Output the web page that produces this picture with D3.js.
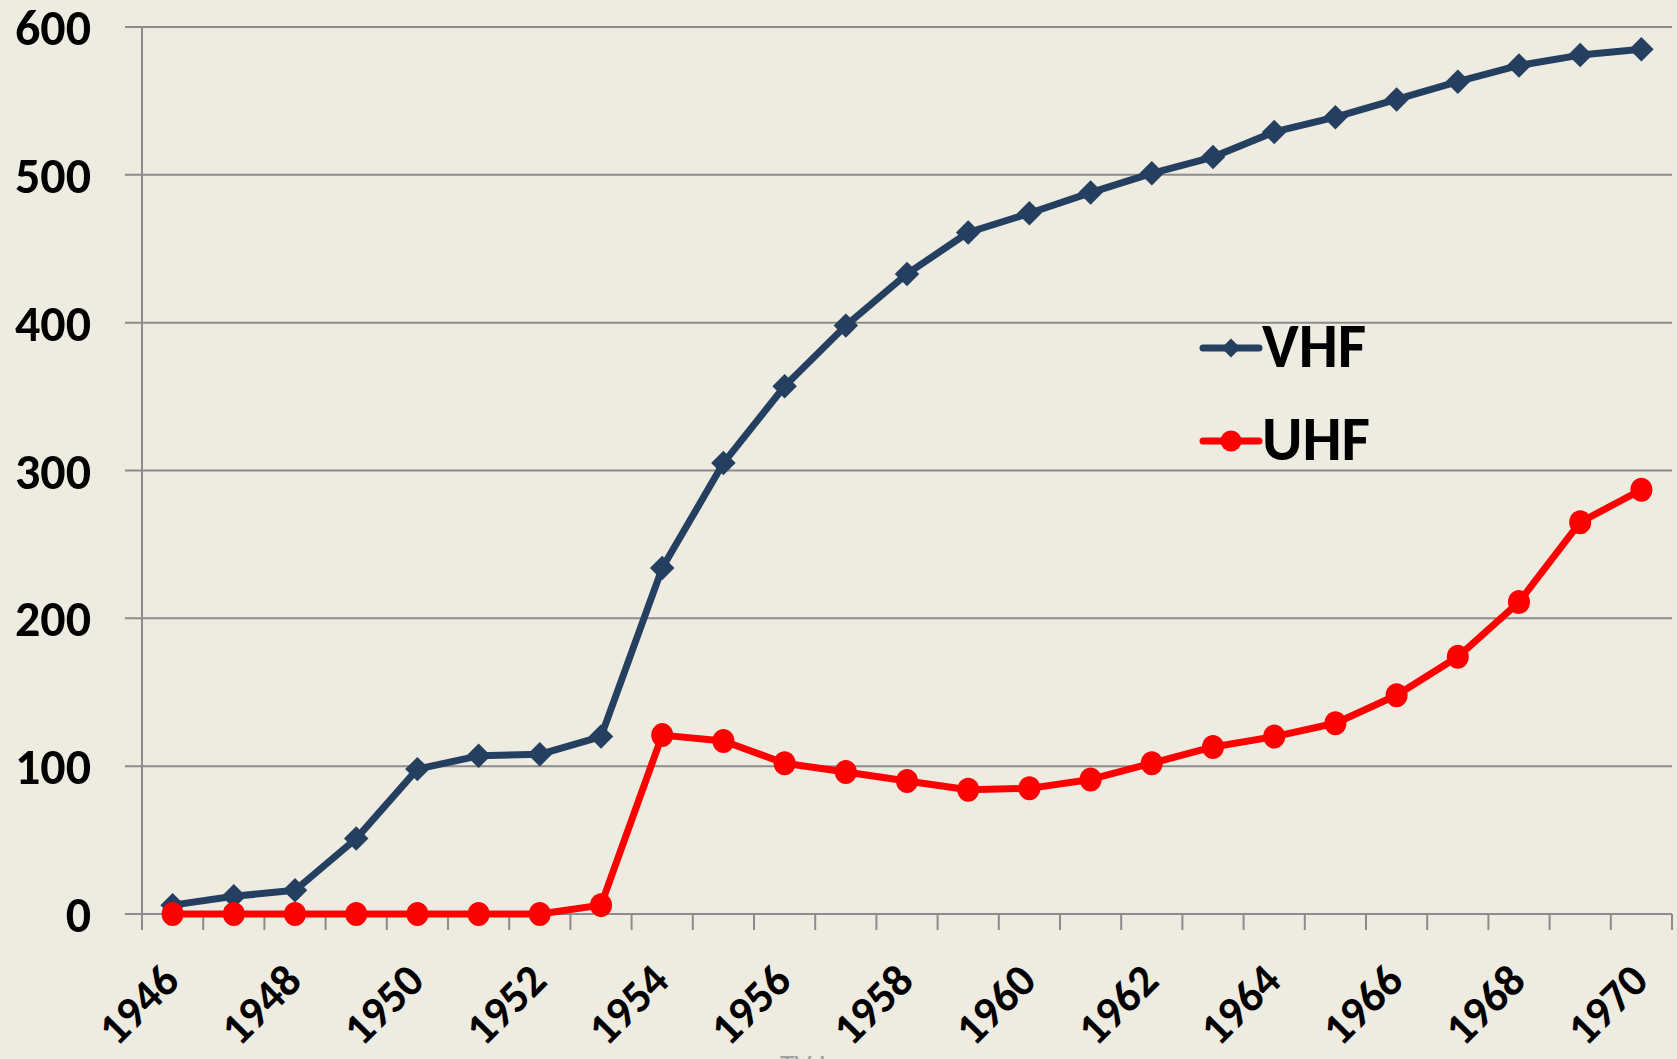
<!DOCTYPE html>
<html>
<head>
<meta charset="utf-8">
<script src="https://cdn.jsdelivr.net/npm/d3@7"></script>
<style>
  html, body { margin: 0; padding: 0; background: #EEEBE0; }
  svg { display: block; }
  text { font-family: Carlito, Lato, "Open Sans", sans-serif; font-weight: 800; }
</style>
</head>
<body>
<svg id="chart" width="1677" height="1059"></svg>
<script>
const years = ["1946","1947","1948","1949","1950","1951","1952","1953","1954","1955","1956","1957","1958","1959","1960","1961","1962","1963","1964","1965","1966","1967","1968","1969","1970"];
const vhf = [6, 12, 16, 51, 98, 107, 108, 120, 234, 305, 357, 398, 433, 461, 474, 488, 501, 512, 529, 539, 551, 563, 574, 581, 585];
const uhf = [0, 0, 0, 0, 0, 0, 0, 6, 121, 117, 102, 96, 90, 84, 85, 91, 102, 113, 120, 129, 148, 174, 211, 265, 287];
const yTicks = [0, 100, 200, 300, 400, 500, 600];
const xTickLabels = ["1946","1948","1950","1952","1954","1956","1958","1960","1962","1964","1966","1968","1970"];
const seriesNames = ["VHF", "UHF"];

(function () {
const svg = d3.select("#chart");
const W = 1677, H = 1059;
svg.append("rect").attr("width", W).attr("height", H).attr("fill", "#EEEBE0");

const pLeft = 142, pRight = 1672, pTop = 27, pBottom = 914;
const x = d3.scaleBand().domain(years).range([pLeft, pRight]).padding(0);
const y = d3.scaleLinear().domain([0, 600]).range([pBottom, pTop]);
const gridColor = "#8C8C8C";

// gridlines
svg.append("g").selectAll("line").data(yTicks).join("line")
  .attr("x1", pLeft - 17).attr("x2", pRight)
  .attr("y1", d => y(d)).attr("y2", d => y(d))
  .attr("stroke", gridColor).attr("stroke-width", 2);

// y axis line
svg.append("line").attr("x1", pLeft).attr("x2", pLeft)
  .attr("y1", pTop).attr("y2", pBottom + 16)
  .attr("stroke", gridColor).attr("stroke-width", 2);

// x ticks at category boundaries
const bounds = years.map(d => x(d)).concat([pRight]);
svg.append("g").selectAll("line").data(bounds).join("line")
  .attr("x1", d => d).attr("x2", d => d)
  .attr("y1", pBottom).attr("y2", pBottom + 16)
  .attr("stroke", gridColor).attr("stroke-width", 2);

// y labels
svg.append("g").selectAll("text").data(yTicks).join("text")
  .attr("x", 91).attr("y", d => y(d)).attr("dy", "0.36em")
  .attr("text-anchor", "end").attr("font-size", 50).attr("fill", "#000")
  .text(d => d);

// x labels
svg.append("g").selectAll("text").data(xTickLabels).join("text")
  .attr("text-anchor", "end").attr("font-size", 45).attr("fill", "#000")
  .attr("transform", d => `translate(${x(d) + x.bandwidth()/2 + 9},${pBottom + 69}) rotate(-45)`)
  .text(d => d);

const cx = d => x(d) + x.bandwidth() / 2;
const line = d3.line().x(d => cx(d[0])).y(d => y(d[1]));
const vhfColor = "#243F60", uhfColor = "#FF0000";

const vhfPts = years.map((yr, i) => [yr, vhf[i]]);
const uhfPts = years.map((yr, i) => [yr, uhf[i]]);

svg.append("path").datum(vhfPts).attr("d", line)
  .attr("fill", "none").attr("stroke", vhfColor).attr("stroke-width", 7).attr("stroke-linejoin", "round");
const diamond = d3.symbol().type(d3.symbolSquare).size(300);
svg.append("g").selectAll("path").data(vhfPts).join("path")
  .attr("d", diamond)
  .attr("transform", d => `translate(${cx(d[0])},${y(d[1])}) rotate(45)`)
  .attr("fill", vhfColor);

svg.append("path").datum(uhfPts).attr("d", line)
  .attr("fill", "none").attr("stroke", uhfColor).attr("stroke-width", 7).attr("stroke-linejoin", "round");
svg.append("g").selectAll("ellipse").data(uhfPts).join("ellipse")
  .attr("cx", d => cx(d[0])).attr("cy", d => y(d[1])).attr("rx", 11).attr("ry", 12)
  .attr("fill", uhfColor);

// legend
const legend = [
  { name: seriesNames[0], color: vhfColor, ly: 348, ty: 367, marker: "diamond" },
  { name: seriesNames[1], color: uhfColor, ly: 441, ty: 460, marker: "circle" }
];
const lg = svg.append("g");
legend.forEach(l => {
  lg.append("line").attr("x1", 1203).attr("x2", 1259).attr("y1", l.ly).attr("y2", l.ly)
    .attr("stroke", l.color).attr("stroke-width", 7).attr("stroke-linecap", "round");
  if (l.marker === "diamond") {
    lg.append("path").attr("d", d3.symbol().type(d3.symbolSquare).size(180))
      .attr("transform", `translate(1231,${l.ly}) rotate(45)`).attr("fill", l.color);
  } else {
    lg.append("circle").attr("cx", 1231).attr("cy", l.ly).attr("r", 10.5).attr("fill", l.color);
  }
  lg.append("text").attr("x", 1262).attr("y", l.ty).attr("font-size", 62).attr("fill", "#000").text(l.name);
});

// partially visible caption at bottom
svg.append("text").attr("x", 780).attr("y", 1076).attr("font-size", 30)
  .attr("fill", "#A0A0A0").style("font-weight", 400).text("TV I");
})();
</script>
</body>
</html>
